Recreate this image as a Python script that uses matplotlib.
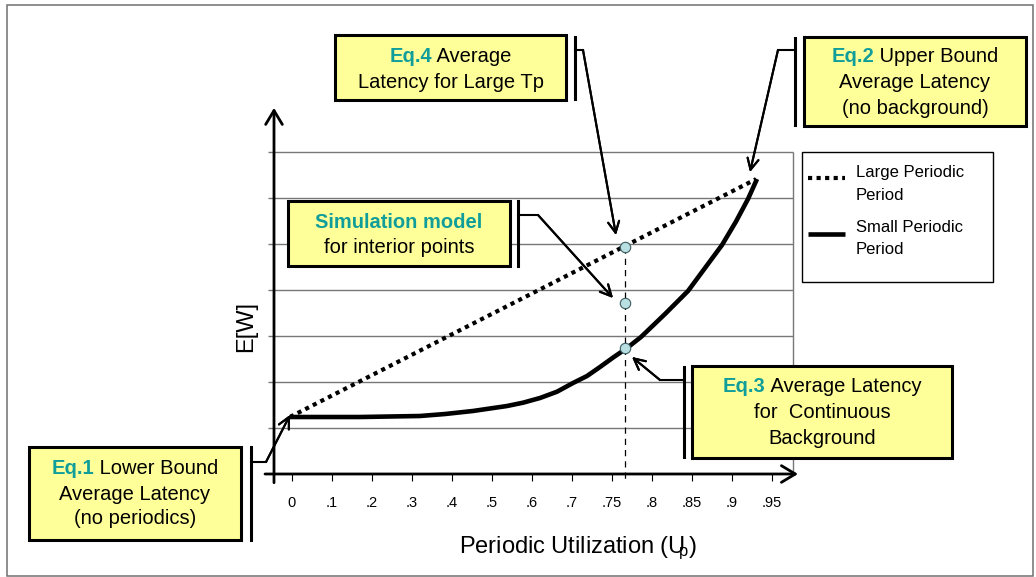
import matplotlib
matplotlib.use("Agg")
import matplotlib.pyplot as plt
from matplotlib.patches import Rectangle
from matplotlib.lines import Line2D
from matplotlib.offsetbox import TextArea, HPacker, AnnotationBbox

plt.rcParams['font.family'] = ['Liberation Sans', 'DejaVu Sans']
plt.rcParams['mathtext.fontset'] = 'custom'
plt.rcParams['mathtext.rm'] = 'Liberation Sans'
plt.rcParams['mathtext.it'] = 'Liberation Sans:italic'
plt.rcParams['mathtext.bf'] = 'Liberation Sans:bold'

# ---------------- data ----------------
xtick_labels = ['0', '.1', '.2', '.3', '.4', '.5', '.6', '.7', '.75', '.8', '.85', '.9', '.95']
xtick_pos = list(range(len(xtick_labels)))
grid_levels = [1, 2, 3, 4, 5, 6, 7]

# Large periodic period (straight dotted line), x in tick-position units
large_x = [-0.05, 11.6]
large_y = [1.24, 6.41]

# Small periodic period (solid curve)
small_x = [-0.05, 0.7, 1.7, 2.45, 3.2, 3.825, 4.525, 5.375, 5.775, 6.2, 6.625, 7.025, 7.375,
           7.7, 8.025, 8.375, 8.725, 9.325, 9.9, 10.325, 10.75, 11.1, 11.4, 11.625]
small_y = [1.239, 1.239, 1.239, 1.25, 1.261, 1.304, 1.37, 1.478, 1.55, 1.652, 1.789, 1.978, 2.13,
           2.326, 2.53, 2.739, 2.978, 3.478, 3.978, 4.478, 4.978, 5.489, 5.978, 6.413]

# Interior (simulation) points at Up = .76
interior_x = [8.325, 8.325, 8.325]
interior_y = [4.935, 3.717, 2.739]

# ---------------- figure ----------------
W, H = 1036, 577
fig = plt.figure(figsize=(W / 100, H / 100), dpi=100)
fig.patch.set_facecolor('white')


def P(px, py):
    return (px / W, 1 - py / H)


ax = fig.add_axes([274 / W, 1 - 474 / H, (793 - 274) / W, (474 - 152) / H])
ax.set_xlim(-0.45, 12.525)
ax.set_ylim(0, 7)
ax.patch.set_visible(False)
for s in ax.spines.values():
    s.set_visible(False)
ax.set_yticks([])
ax.set_xticks(xtick_pos, labels=xtick_labels)
ax.tick_params(axis='x', direction='out', length=5, width=0.8, pad=11, labelsize=10.5, colors='black')

# gridlines
ax.hlines(grid_levels, -0.6, 12.525, colors='#777777', lw=1.0, clip_on=False, zorder=1)
ax.vlines(12.525, 0, 7, colors='#777777', lw=1.0, clip_on=False, zorder=1)

# axes arrows
arrow_style = '->,head_length=1.0,head_width=0.6'
ax.annotate('', xy=(-0.45, 7.96), xytext=(-0.45, -0.19), xycoords='data',
            arrowprops=dict(arrowstyle=arrow_style, lw=2.0, color='black', shrinkA=0, shrinkB=0),
            annotation_clip=False, zorder=3)
ax.annotate('', xy=(12.65, 0), xytext=(-0.675, 0), xycoords='data',
            arrowprops=dict(arrowstyle=arrow_style, lw=2.0, color='black', shrinkA=0, shrinkB=0),
            annotation_clip=False, zorder=3)

# vertical dashed guide
ax.plot([interior_x[0], interior_x[0]], [interior_y[0], -0.18], color='black', lw=0.9,
        dashes=(5, 4), clip_on=False, zorder=2)

# series
ax.plot(large_x, large_y, color='black', lw=3.0, dashes=(1, 1.05), solid_capstyle='butt',
        dash_capstyle='butt', zorder=4, label='Large Periodic\nPeriod')
ax.plot(small_x, small_y, color='black', lw=3.3, solid_capstyle='butt', solid_joinstyle='round',
        zorder=4, label='Small Periodic\nPeriod')
ax.plot(interior_x, interior_y, linestyle='none', marker='o', markersize=7.5,
        markerfacecolor='#B8DFE2', markeredgecolor='#3c5c60', markeredgewidth=0.8, zorder=5)

# ---------------- legend (drawn as a framed key) ----------------
fig.add_artist(Rectangle(P(802, 282), (993 - 802) / W, (282 - 152) / H, transform=fig.transFigure,
                         fc='white', ec='black', lw=1.0, zorder=2))
fig.add_artist(Line2D([808 / W, 845 / W], [1 - 178 / H] * 2, color='black', lw=3.0,
                      dashes=(1, 1.05), dash_capstyle='butt', transform=fig.transFigure, zorder=3))
fig.add_artist(Line2D([808 / W, 845 / W], [1 - 234 / H] * 2, color='black', lw=3.3,
                      solid_capstyle='butt', transform=fig.transFigure, zorder=3))
for label_lines, ys in [(('Large Periodic', 'Period'), (173, 195)),
                        (('Small Periodic', 'Period'), (228, 250))]:
    for t, yy in zip(label_lines, ys):
        fig.text(*P(856, yy), t, fontsize=12, ha='left', va='center', zorder=4)

# ---------------- axis labels ----------------
fig.text(*P(246, 326), 'E[W]', fontsize=17, rotation=90, ha='center', va='center')
fig.text(*P(578, 553), r'Periodic Utilization (U$_{\!\!\!\mathrm{p}}$)', fontsize=17,
         ha='center', va='baseline')

# outer frame
fig.add_artist(Rectangle(P(7, 576), (1033 - 7) / W, (576 - 5) / H, transform=fig.transFigure,
                         fc='none', ec='#707070', lw=1.1, zorder=0))

# ---------------- callout boxes ----------------
TEAL = '#119E9B'
YELLOW = '#FFFF99'
FS = 14.5

boxes = [
    dict(rect=(335, 35, 566, 100), lines=[("Eq.4", " Average"), ("", "Latency for Large Tp")], ly=[57, 82]),
    dict(rect=(804, 37, 1026, 126), lines=[("Eq.2", " Upper Bound"), ("", "Average Latency"), ("", "(no background)")], ly=[57, 83, 108]),
    dict(rect=(288, 201, 510, 266), lines=[("Simulation model", ""), ("", "for interior points")], ly=[222, 248]),
    dict(rect=(692, 366, 952, 458), lines=[("Eq.3", " Average Latency"), ("", "for  Continuous"), ("", "Background")], ly=[387, 413, 438]),
    dict(rect=(29, 447, 241, 540), lines=[("Eq.1", " Lower Bound"), ("", "Average Latency"), ("", "(no periodics)")], ly=[468, 494, 518]),
]

for b in boxes:
    x0, y0, x1, y1 = b['rect']
    fig.add_artist(Rectangle(P(x0, y1), (x1 - x0) / W, (y1 - y0) / H, transform=fig.transFigure,
                             fc=YELLOW, ec='black', lw=2.2, zorder=6))
    cx = (x0 + x1) / 2
    for (teal, black), yy in zip(b['lines'], b['ly']):
        kids = []
        if teal:
            kids.append(TextArea(teal, textprops=dict(color=TEAL, fontweight='bold', fontsize=FS)))
        if black:
            kids.append(TextArea(black, textprops=dict(color='black', fontsize=FS)))
        hp = HPacker(children=kids, align='baseline', pad=0, sep=0)
        ab = AnnotationBbox(hp, P(cx, yy), xycoords='figure fraction', frameon=False,
                            box_alignment=(0.5, 0.5), pad=0, zorder=7)
        fig.add_artist(ab)

# connectors: bracket x, bracket y-range, elbow start, bend, arrow tip (pixel layout)
connectors = [
    (575, (37, 99), (575, 50), (583, 50), (616, 235)),
    (795, (38, 125), (795, 50), (778, 50), (750, 172)),
    (518, (201, 266), (518, 215), (538, 215), (613, 298)),
    (684, (367, 457), (684, 380), (660, 380), (632, 357)),
    (251, (447, 540), (251, 462), (266, 462), (290, 415)),
]
for bx, (by0, by1), st, bend, tip in connectors:
    fig.add_artist(Line2D([bx / W, bx / W], [1 - by0 / H, 1 - by1 / H], color='black', lw=2.2,
                          transform=fig.transFigure, zorder=6))
    fig.add_artist(Line2D([st[0] / W, bend[0] / W], [1 - st[1] / H, 1 - bend[1] / H], color='black',
                          lw=1.5, transform=fig.transFigure, zorder=6))
    fig.add_artist(plt.annotate('', xy=P(*tip), xytext=P(*bend), xycoords='figure fraction',
                                arrowprops=dict(arrowstyle='->,head_length=0.8,head_width=0.4', lw=1.5,
                                                color='black', shrinkA=0, shrinkB=0),
                                annotation_clip=False, zorder=6))

fig.savefig('out.png', dpi=100, facecolor='white')
